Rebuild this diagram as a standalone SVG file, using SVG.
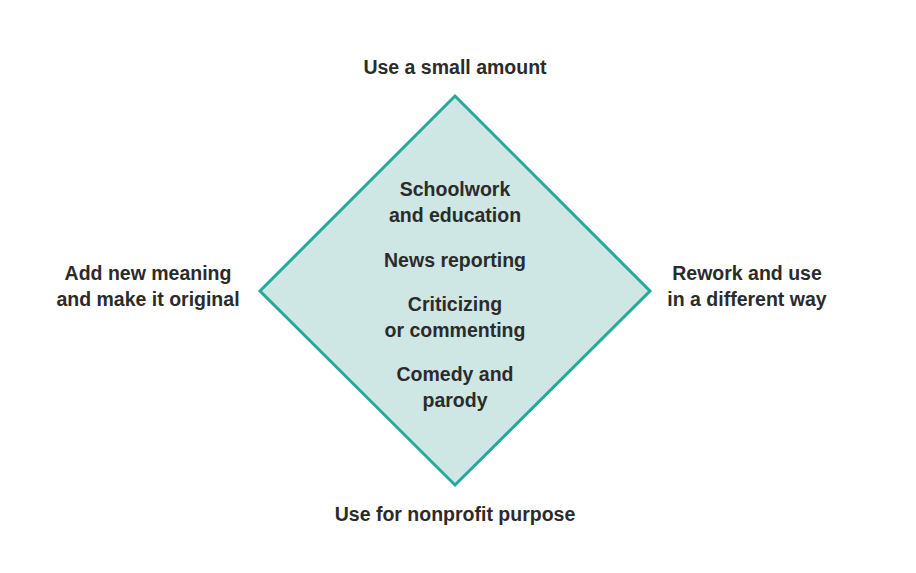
<svg xmlns="http://www.w3.org/2000/svg" width="916" height="573" viewBox="0 0 916 573">
<style>
text{font-family:"Liberation Sans",Arial,sans-serif;font-weight:bold;font-size:19.5px;fill:#2b2b2b;text-anchor:middle}
.shape{fill:#cee6e4;stroke:#25a99b;stroke-width:3;stroke-linejoin:miter}
</style>
<rect width="916" height="573" fill="#ffffff"/>
<g id="connectors"></g>
<g id="diamond">
<polygon class="shape" points="455,96 650,291 455,485 260,291"/>
<text x="455" y="196">Schoolwork</text>
<text x="455" y="222">and education</text>
<text x="455" y="267">News reporting</text>
<text x="455" y="311">Criticizing</text>
<text x="455" y="337">or commenting</text>
<text x="455" y="381">Comedy and</text>
<text x="455" y="407">parody</text>
</g>
<g id="top"><text x="455" y="74">Use a small amount</text></g>
<g id="bottom"><text x="455" y="521">Use for nonprofit purpose</text></g>
<g id="left"><text x="148" y="280">Add new meaning</text><text x="148" y="306">and make it original</text></g>
<g id="right"><text x="747" y="280">Rework and use</text><text x="747" y="306">in a different way</text></g>
</svg>
